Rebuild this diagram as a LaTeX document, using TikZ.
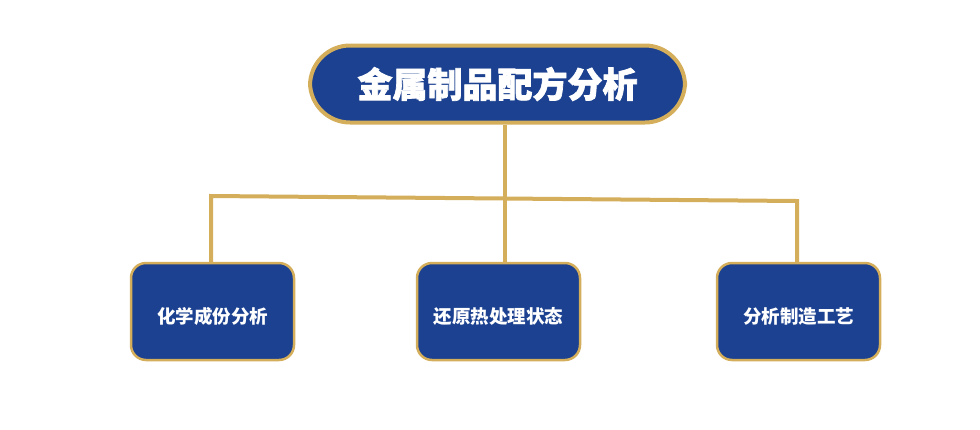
\documentclass[tikz,border=0pt]{standalone}
\usepackage{fontspec}
\newfontfamily\cjk{Noto Sans CJK SC}
\newfontfamily\cjkb[FakeBold=2]{Noto Sans CJK SC Black}
\definecolor{navy}{HTML}{1B4190}
\definecolor{gold}{HTML}{D4AE5A}
\begin{document}
\begin{tikzpicture}[x=1pt,y=-1pt,
  title/.style={draw=gold,line width=4pt,fill=navy,rounded corners=40pt,minimum width=375pt,minimum height=77pt,text=white,font=\cjkb\fontsize{35}{35}\selectfont,inner sep=0pt},
  box/.style={draw=gold,line width=2.5pt,fill=navy,rounded corners=15pt,minimum width=163pt,minimum height=97pt},
  lbl/.style={text=white,font=\cjk\bfseries\fontsize{18.5}{18.5}\selectfont,inner sep=0pt},
  link/.style={draw=gold,line width=4pt}]
\useasboundingbox (0,0) rectangle (980,429);
\node[title] (t) at (497.5,84) {};
\node[box] (a) at (212.5,311.5) {};
\node[box] (b) at (498.5,311.5) {};
\node[box] (c) at (798.5,311.5) {};
\coordinate (l) at (211,196);
\coordinate (r) at (797,201);
\coordinate (m) at (505,198.5);
\draw[link] (t.south -| m) -- (b.north -| m);
\draw[link] (a.north -| l) -- (l) -- (r) -- (c.north -| r);
\node[title,draw=none,fill=none] (tt) at (t) {金属制品配方分析};
\node[lbl] (at) at ([yshift=-5pt]a.center) {化学成份分析};
\node[lbl] (bt) at ([yshift=-5pt]b.center) {还原热处理状态};
\node[lbl] (ct) at ([yshift=-5pt]c.center) {分析制造工艺};
\end{tikzpicture}
\end{document}
